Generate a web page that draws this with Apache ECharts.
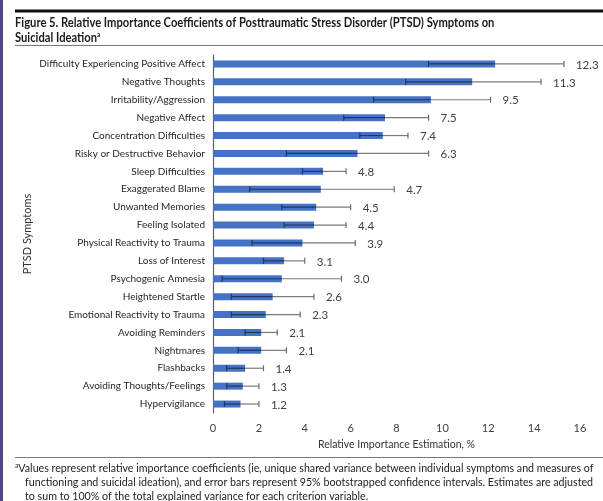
<!DOCTYPE html>
<html>
<head>
<meta charset="utf-8">
<script src="https://cdn.jsdelivr.net/npm/echarts@6/dist/echarts.min.js"></script>
<style>
  html, body { margin: 0; padding: 0; background: #fff; }
  #chart { width: 603px; height: 501px; }
</style>
</head>
<body>
<div id="chart"></div>
<script>
// PTSD symptoms, top to bottom
var categories = [
  'Difficulty Experiencing Positive Affect', 'Negative Thoughts', 'Irritability/Aggression',
  'Negative Affect', 'Concentration Difficulties', 'Risky or Destructive Behavior',
  'Sleep Difficulties', 'Exaggerated Blame', 'Unwanted Memories', 'Feeling Isolated',
  'Physical Reactivity to Trauma', 'Loss of Interest', 'Psychogenic Amnesia',
  'Heightened Startle', 'Emotional Reactivity to Trauma', 'Avoiding Reminders',
  'Nightmares', 'Flashbacks', 'Avoiding Thoughts/Feelings', 'Hypervigilance'
];
var values = [12.3, 11.3, 9.5, 7.5, 7.4, 6.3, 4.8, 4.7, 4.5, 4.4, 3.9, 3.1, 3.0, 2.6, 2.3, 2.1, 2.1, 1.4, 1.3, 1.2];
// 95% bootstrapped CI
var ciLow = [9.4, 8.4, 7.0, 5.7, 6.4, 3.2, 3.9, 1.6, 3.0, 3.1, 1.7, 2.2, 0.4, 0.8, 0.8, 1.4, 1.1, 0.6, 0.6, 0.5];
var ciHigh = [15.3, 14.3, 12.1, 9.4, 8.5, 9.4, 5.8, 7.9, 6.0, 5.8, 6.2, 4.0, 5.6, 4.4, 3.8, 2.8, 3.2, 2.2, 2.0, 2.0];
var xTicks = { min: 0, max: 16, interval: 2 };

var FONT = 'Lato';
var chart = echarts.init(document.getElementById('chart'));

var errData = categories.map(function (c, i) {
  return [i, ciLow[i], values[i], ciHigh[i]];
});

function renderErr(params, api) {
  var idx = api.value(0);
  var lo = api.coord([api.value(1), idx]);
  var mid = api.coord([api.value(2), idx]);
  var hi = api.coord([api.value(3), idx]);
  var y = lo[1];
  var cap = 3;
  return {
    type: 'group',
    children: [
      { type: 'line', shape: { x1: mid[0], y1: y, x2: hi[0], y2: y }, style: { stroke: '#7a7a7a', lineWidth: 1.2 } },
      { type: 'line', shape: { x1: lo[0], y1: y, x2: mid[0], y2: y }, style: { stroke: '#23355c', lineWidth: 1.2 } },
      { type: 'line', shape: { x1: lo[0], y1: y - cap, x2: lo[0], y2: y + cap }, style: { stroke: '#23355c', lineWidth: 1.2 } },
      { type: 'line', shape: { x1: hi[0], y1: y - cap, x2: hi[0], y2: y + cap }, style: { stroke: '#6a6a6a', lineWidth: 1.2 } },
      { type: 'text', x: hi[0] + 12, y: y + 1,
        style: { text: api.value(2).toFixed(1), fill: '#404040', font: '11.5px ' + FONT, textVerticalAlign: 'middle' } }
    ]
  };
}

chart.setOption({
  animation: false,
  graphic: [
    { type: 'rect', left: 0, top: 0, shape: { width: 3, height: 501 }, style: { fill: '#4b4a8e' } },
    { type: 'line', shape: { x1: 15, y1: 11, x2: 603, y2: 11 }, style: { stroke: '#111', lineWidth: 3 } },
    { type: 'text', x: 15, y: 15, scaleX: 0.8,
      style: { text: 'Figure 5. Relative Importance Coefficients of Posttraumatic Stress Disorder (PTSD) Symptoms on', font: 'bold 14px ' + FONT, fill: '#1a1a1a' } },
    { type: 'text', x: 15, y: 30, scaleX: 0.8,
      style: { text: 'Suicidal Ideation{s|a}', font: 'bold 14px ' + FONT, fill: '#1a1a1a',
        rich: { s: { fontSize: 8, fontFamily: FONT, fontWeight: 'bold', fill: '#1a1a1a', verticalAlign: 'top', padding: [0, 0, 6, 0] } } } },
    { type: 'line', shape: { x1: 15, y1: 45.5, x2: 603, y2: 45.5 }, style: { stroke: '#777', lineWidth: 1 } },
    { type: 'line', shape: { x1: 15, y1: 457.5, x2: 603, y2: 457.5 }, style: { stroke: '#777', lineWidth: 1 } },
    { type: 'text', x: 15, y: 462, scaleX: 0.97,
      style: { text: '{s|a}Values represent relative importance coefficients (ie, unique shared variance between individual symptoms and measures of', font: '11px ' + FONT, fill: '#222',
        rich: { s: { fontSize: 7, fontFamily: FONT, fill: '#222', verticalAlign: 'top', padding: [0, 0, 5, 0] } } } },
    { type: 'text', x: 25, y: 476.5, scaleX: 0.97,
      style: { text: 'functioning and suicidal ideation), and error bars represent 95% bootstrapped confidence intervals. Estimates are adjusted', font: '11px ' + FONT, fill: '#222' } },
    { type: 'text', x: 25, y: 490.5, scaleX: 0.97,
      style: { text: 'to sum to 100% of the total explained variance for each criterion variable.', font: '11px ' + FONT, fill: '#222' } }
  ],
  grid: { left: 213, right: 23, top: 55, bottom: 88, outerBoundsMode: 'none' },
  xAxis: {
    type: 'value', min: xTicks.min, max: xTicks.max, interval: xTicks.interval,
    axisLine: { show: false }, axisTick: { show: false }, splitLine: { show: false },
    axisLabel: { color: '#404040', fontFamily: FONT, fontSize: 11, margin: 10 },
    name: 'Relative Importance Estimation, %', nameLocation: 'middle', nameGap: 26,
    nameTextStyle: { color: '#333', fontFamily: FONT, fontSize: 10.5 }
  },
  yAxis: {
    type: 'category', data: categories, inverse: true,
    axisLine: { show: true, lineStyle: { color: '#606060', width: 1.2 } },
    axisTick: { show: false },
    axisLabel: { color: '#262626', fontFamily: FONT, fontSize: 10, margin: 8 },
    name: 'PTSD Symptoms', nameLocation: 'middle', nameGap: 180, nameRotate: 90,
    nameMoveOverlap: false,
    nameTextStyle: { color: '#333', fontFamily: FONT, fontSize: 11 }
  },
  series: [
    {
      type: 'bar', data: values, barWidth: 7,
      itemStyle: { color: '#4472c4' }
    },
    {
      type: 'custom', data: errData, renderItem: renderErr,
      encode: { x: [1, 2, 3], y: 0 }, z: 5
    }
  ]
});
</script>
</body>
</html>
